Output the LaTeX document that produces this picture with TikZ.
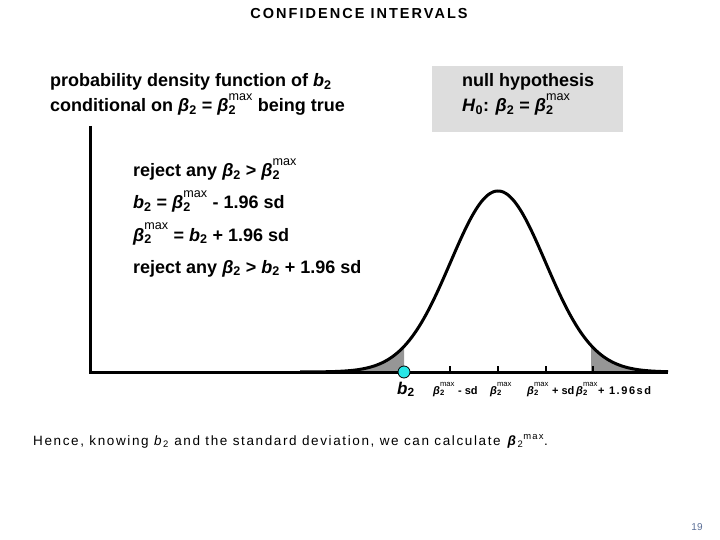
\documentclass[tikz,border=0pt]{standalone}
\usepackage{fontspec}
\setmainfont{Liberation Sans}
\newfontfamily\titlefont[LetterSpace=14]{Liberation Sans}
\newfontfamily\notefont[LetterSpace=12]{Liberation Sans}
\newfontfamily\lblspaced[LetterSpace=14]{Liberation Sans}
\definecolor{boxgray}{RGB}{221,221,221}
\definecolor{shadegray}{RGB}{150,150,150}
\definecolor{dotcyan}{RGB}{40,230,230}
\definecolor{pagenum}{RGB}{90,110,150}
\newcommand\gb{\textbf{\textit{β}}}
\newcommand\bb{\textbf{\textit{b}}}
\newcommand\sbx[1]{\textsubscript{#1}}
\newcommand\bsub{\gb\sbx{2}}
\newcommand\mxs{\raisebox{0.28em}{\textsuperscript{\normalfont max}}}
\newcommand\bmx{\gb\rlap{\sbx{2}}\mxs}
\tikzset{
  txt/.style={inner sep=0pt, anchor=base west, font=\fontsize{18}{22}\selectfont\bfseries},
  lbl/.style={inner sep=0pt, anchor=base west, font=\fontsize{11}{13}\selectfont\bfseries},
  axisline/.style={line width=3pt, line join=miter},
  tickmark/.style={line width=2pt},
  curveline/.style={line width=3pt},
}
\begin{document}
\begin{tikzpicture}[x=1pt,y=-1pt]
\useasboundingbox (0,0) rectangle (720,540);
% title
\node[inner sep=0pt, anchor=base, font=\fontsize{14.5}{17}\selectfont\bfseries\titlefont] (title) at (359,19) {CONFIDENCE INTERVALS};
% top-left description
\node[txt] (pdf1) at (50,87) {probability density function of \bb\sbx{2}};
\node[txt] (pdf2) at (50,112) {conditional on \bsub{} = \bmx{} being true};
% null hypothesis box
\node[fill=boxgray, inner sep=0pt, minimum width=191pt, minimum height=66pt, anchor=north west] (box) at (432,66) {};
\node[txt] (nh1) at (462,87) {null hypothesis};
\node[txt] (nh2) at (462,112) {\textit{H}\sbx{0}: \bsub{} = \bmx};
% reasoning lines
\node[txt] (r1) at (133,177) {reject any \bsub{} > \bmx};
\node[txt] (r2) at (133,209) {\bb\sbx{2} = \bmx{} - 1.96 sd};
\node[txt] (r3) at (133,241) {\bmx{} = \bb\sbx{2} + 1.96 sd};
\node[txt] (r4) at (133,273) {reject any \bsub{} > \bb\sbx{2} + 1.96 sd};
% shaded tails
\fill[shadegray] (300,372) -- plot[domain=300:404, samples=60] (\x,{372-181*exp(-((\x-498)/47.5)^2/2)}) -- (404,372) -- cycle;
\fill[shadegray] (591,372) -- plot[domain=591:668, samples=60] (\x,{372-181*exp(-((\x-498)/47.5)^2/2)}) -- (668,372) -- cycle;
% curve
\draw[curveline] plot[domain=300:668, samples=200, smooth] (\x,{372-181*exp(-((\x-498)/47.5)^2/2)});
% axes
\coordinate (ytop) at (90,126);
\coordinate (origin) at (90,372);
\coordinate (xend) at (668,372);
\draw[axisline] (ytop) -- (origin) -- (xend);
% ticks
\foreach \t/\n in {450/t1,498/t2,546/t3,593/t4}{
  \coordinate (\n) at (\t,372);
  \draw[tickmark] (\n) -- ++(0,-6);
}
% b2 point
\node[circle, fill=dotcyan, draw=black, line width=0.8pt, minimum size=12pt, inner sep=0pt] (b2pt) at (404,372) {};
% axis labels
\node[inner sep=0pt, anchor=base west, font=\fontsize{17}{20}\selectfont\bfseries] (lb2) at (397,394) {\bb\sbx{2}};
\node[lbl] (l1) at (433,394) {\bmx{} - sd};
\node[lbl] (l2) at (490,394) {\bmx};
\node[lbl] (l3) at (527,394) {\bmx{} + sd};
\node[lbl] (l4) at (576,394) {\bmx{}{\lblspaced\bfseries + 1.96sd}};
% note
\node[inner sep=0pt, anchor=base west, font=\fontsize{13.5}{16}\selectfont\notefont] (note) at (33,445) {Hence, knowing \textit{b}\sbx{2} and the standard deviation, we can calculate \bsub\textsuperscript{max}.};
% page number
\node[inner sep=0pt, anchor=base, font=\fontsize{10}{12}\selectfont, text=pagenum] (page) at (697,530) {19};
\end{tikzpicture}
\end{document}
